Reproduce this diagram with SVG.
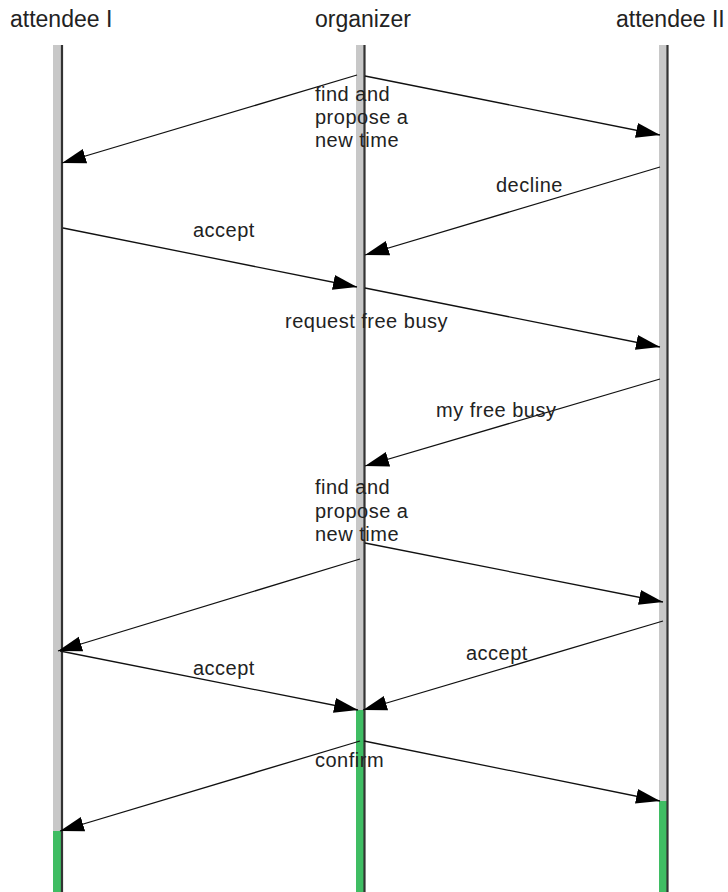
<svg xmlns="http://www.w3.org/2000/svg" width="728" height="892" viewBox="0 0 728 892">
<style>
text{font-family:"Liberation Sans",Arial,sans-serif;fill:#222;}
.hdr{font-size:23px;}
.lbl{font-size:20px;letter-spacing:0.5px;}
.bar{fill:#c8c8c8;}
.act{fill:#3fbd63;}
.life{stroke:#333;stroke-width:2.2;}
.msg{stroke:#111;stroke-width:1.3;fill:none;marker-end:url(#ah);}
</style>
<defs>
<marker id="ah" markerUnits="userSpaceOnUse" markerWidth="25" markerHeight="17" refX="24" refY="7.5" orient="auto" viewBox="0 0 25 15">
<path d="M0,0 L24,7.5 L0,15 Z" fill="#000"/>
</marker>
</defs>
<rect width="728" height="892" fill="#fff"/>
<g id="attendee1">
<text class="hdr" x="10" y="27">attendee I</text>
<rect class="bar" x="53" y="45" width="8" height="847"/>
<rect class="act" x="53" y="831" width="8" height="61"/>
<line class="life" x1="62" y1="45" x2="62" y2="892"/>
</g>
<g id="organizer">
<text class="hdr" x="315" y="27">organizer</text>
<rect class="bar" x="356" y="45" width="8" height="847"/>
<rect class="act" x="356" y="710" width="8" height="182"/>
<line class="life" x1="364.5" y1="45" x2="364.5" y2="892"/>
</g>
<g id="attendee2">
<text class="hdr" x="616" y="27">attendee II</text>
<rect class="bar" x="659" y="45" width="8" height="847"/>
<rect class="act" x="659" y="801" width="8" height="91"/>
<line class="life" x1="667.5" y1="45" x2="667.5" y2="892"/>
</g>
<g id="connectors">
<line class="msg" x1="357" y1="75" x2="62" y2="163"/>
<line class="msg" x1="365" y1="76" x2="660" y2="135"/>
<line class="msg" x1="660" y1="167" x2="365" y2="255"/>
<line class="msg" x1="63" y1="228" x2="357" y2="287"/>
<line class="msg" x1="365" y1="288" x2="660" y2="347"/>
<line class="msg" x1="660" y1="379" x2="365" y2="466"/>
<line class="msg" x1="360" y1="559" x2="58" y2="651"/>
<line class="msg" x1="365" y1="543" x2="663" y2="602"/>
<line class="msg" x1="60" y1="651" x2="358" y2="710"/>
<line class="msg" x1="663" y1="621" x2="363" y2="710"/>
<line class="msg" x1="360" y1="741" x2="60" y2="831"/>
<line class="msg" x1="364" y1="741" x2="660" y2="801"/>
</g>
<g id="labels">
<text class="lbl" x="315" y="101">find and</text>
<text class="lbl" x="315" y="124">propose a</text>
<text class="lbl" x="315" y="147">new time</text>
<text class="lbl" x="496" y="192">decline</text>
<text class="lbl" x="193" y="237">accept</text>
<text class="lbl" x="285" y="328">request free busy</text>
<text class="lbl" x="436" y="417">my free busy</text>
<text class="lbl" x="315" y="494">find and</text>
<text class="lbl" x="315" y="518">propose a</text>
<text class="lbl" x="315" y="541">new time</text>
<text class="lbl" x="193" y="675">accept</text>
<text class="lbl" x="466" y="660">accept</text>
<text class="lbl" x="315" y="767">confirm</text>
</g>
</svg>
